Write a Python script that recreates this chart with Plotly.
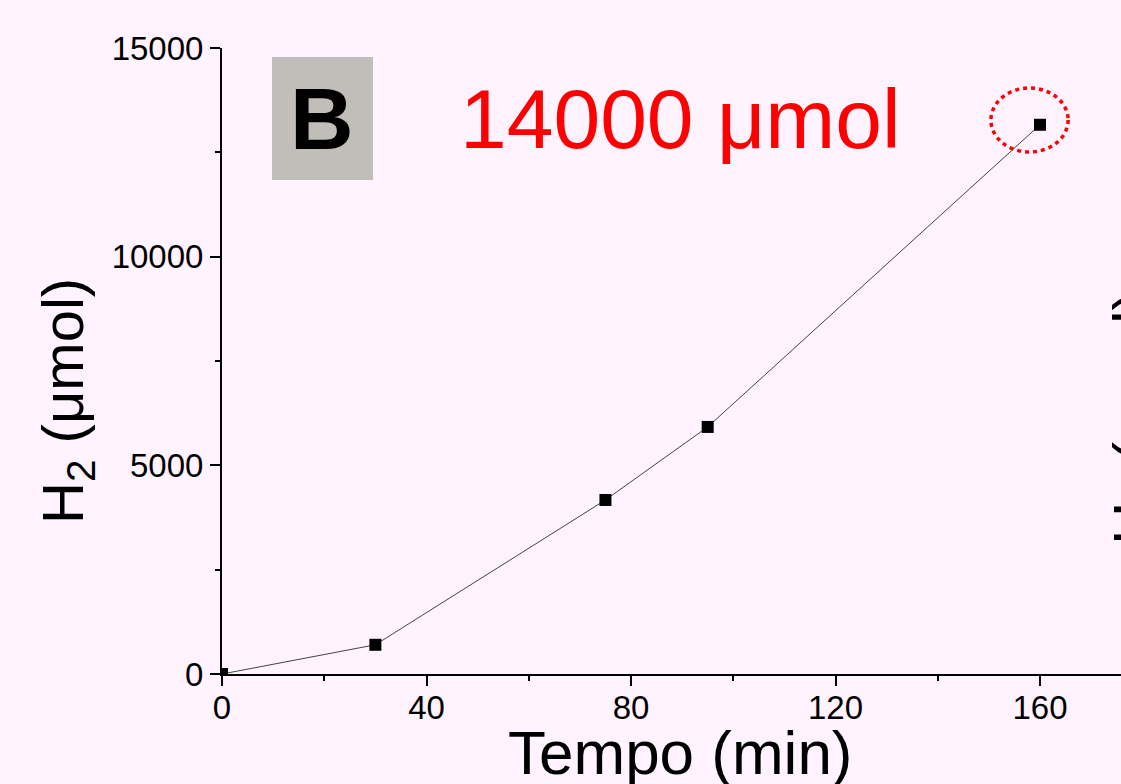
import plotly.graph_objects as go

# Data
tempo_min = [0, 30, 75, 95, 160]
h2_umol = [0, 700, 4170, 5920, 13160]

x_tickvals = [0, 40, 80, 120, 160]
x_ticktext = ["0", "40", "80", "120", "160"]
y_tickvals = [0, 5000, 10000, 15000]
y_ticktext = ["0", "5000", "10000", "15000"]

BG = "#FEF3FE"
FONT = "Liberation Sans, Arial, sans-serif"

W, H = 1121, 784
L, R, T, B = 222, 0, 48, 110
PW = W - L - R
PH = H - T - B
px_per_x = 818 / 160.0
x_max = PW / px_per_x


def py(pix):
    """paper y fraction from a pixel row (top-left origin)"""
    return (H - B - pix) / PH


def px(pix):
    return (pix - L) / PW


fig = go.Figure()
fig.add_trace(go.Scatter(
    x=tempo_min, y=h2_umol, mode="lines+markers",
    line=dict(color="#444444", width=1),
    marker=dict(symbol="square", size=12, color="black"),
    showlegend=False,
))

axis_common = dict(
    showgrid=False, zeroline=False, showline=True, linecolor="black", linewidth=2,
    ticks="outside", ticklen=10, tickwidth=2, tickcolor="black",
    tickfont=dict(family=FONT, size=33, color="black"),
)

fig.update_xaxes(
    range=[0, x_max], tickvals=x_tickvals, ticktext=x_ticktext, **axis_common,
    ticklabelstandoff=-7,
    minor=dict(ticks="outside", ticklen=5, tickwidth=2, tickcolor="black", dtick=20, tick0=0),
)
fig.update_yaxes(
    range=[0, 15000], tickvals=y_tickvals, ticktext=y_ticktext, **axis_common,
    minor=dict(ticks="outside", ticklen=5, tickwidth=2, tickcolor="black", dtick=2500, tick0=0),
)

# Axis titles (as annotations for exact placement)
fig.add_annotation(text="Tempo (min)", xref="paper", yref="paper",
                   x=px(680), y=py(752), xanchor="center", yanchor="middle",
                   showarrow=False, font=dict(family=FONT, size=62, color="black"))
fig.add_annotation(text="H<sub>2</sub> (μmol)", xref="paper", yref="paper",
                   x=px(67), y=py(401), xanchor="center", yanchor="middle",
                   textangle=-90, showarrow=False,
                   font=dict(family=FONT, size=58, color="black"))

# "B" label box
fig.add_shape(type="rect", xref="paper", yref="paper",
              x0=px(272), x1=px(373), y0=py(180), y1=py(57),
              fillcolor="#C1BEBA", line=dict(width=0), layer="below")
fig.add_annotation(text="<b>B</b>", xref="paper", yref="paper",
                   x=px(322), y=py(119), xanchor="center", yanchor="middle",
                   showarrow=False, font=dict(family=FONT, size=88, color="black"))

# Red label
fig.add_annotation(text="14000 μmol", xref="paper", yref="paper",
                   x=px(680), y=py(119), xanchor="center", yanchor="middle",
                   showarrow=False, font=dict(family=FONT, size=84, color="#FF0000"))

# Dotted red circle around last point
fig.add_shape(type="circle", xref="x", yref="y",
              x0=150.4, x1=165.5, y0=12508, y1=14042,
              line=dict(color="#FF0000", width=3.5, dash="4px,4px"))

# Partial label of neighboring panel (cut off at right edge)
fig.add_annotation(text="H<sub>2</sub> (μmol)", xref="paper", yref="paper",
                   x=px(1179), y=py(418), xanchor="right", yanchor="middle",
                   textangle=-90, showarrow=False,
                   font=dict(family=FONT, size=60, color="black"))

fig.update_layout(
    width=W, height=H,
    margin=dict(l=L, r=R, t=T, b=B),
    paper_bgcolor=BG, plot_bgcolor=BG,
    font=dict(family=FONT, color="black"),
)

fig.write_html("out.html", config={"displayModeBar": False},
               post_script="document.body.style.margin='0';document.body.style.overflow='hidden';")
